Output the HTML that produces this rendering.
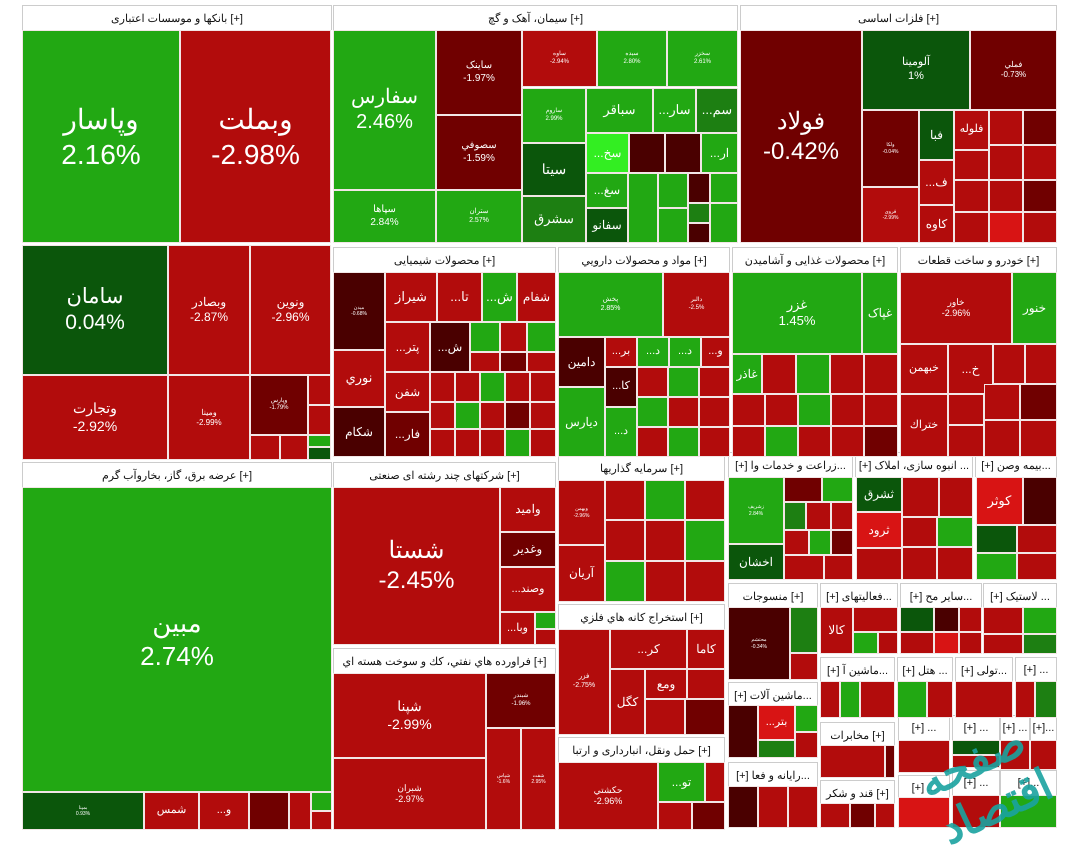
<!DOCTYPE html>
<html><head><meta charset="utf-8">
<style>
html,body{margin:0;padding:0;background:#fff;}
#map{position:relative;width:1080px;height:851px;overflow:hidden;background:#fff;font-family:"Liberation Sans","Noto Sans CJK SC",sans-serif;}
.t{position:absolute;box-sizing:border-box;border:1px solid #f2e6e6;display:flex;flex-direction:column;align-items:center;justify-content:center;color:#fff;overflow:hidden;text-align:center;line-height:1.25;white-space:nowrap;}
.h{position:absolute;box-sizing:border-box;background:#fff;border:1px solid #ccc;border-bottom:none;color:#111;font-size:11px;display:flex;align-items:center;justify-content:center;white-space:nowrap;overflow:hidden;}
.wm{position:absolute;left:925px;top:725px;color:#1aa3a0;font-size:44px;font-weight:bold;transform:rotate(-25deg);opacity:.9;font-family:"Liberation Sans","Noto Sans CJK SC",sans-serif;}
</style></head>
<body>
<div id="map"></div>
<script>
const C={g:'#22a813',G:'#0b560b',m:'#1d7f12',l:'#33ee22',r:'#b20c0c',R:'#700000',b:'#d81414',k:'#4a0000'};
const sectorHeaders=[
[22,5,310,'بانکها و موسسات اعتباری [+]'],[333,5,405,'سیمان، آهک و گچ [+]'],[740,5,317,'فلزات اساسی [+]'],
[333,247,223,'محصولات شیمیایی [+]'],[558,247,172,'مواد و محصولات دارويي [+]'],[732,247,166,'محصولات غذایی و آشامیدن [+]'],[900,247,157,'خودرو و ساخت قطعات [+]'],
[22,462,310,'عرضه برق، گاز، بخاروآب گرم [+]'],[333,462,223,'شرکتهای چند رشته ای صنعتی [+]'],[333,648,223,'فراورده هاي نفتي، كك و سوخت هسته اي [+]'],
[558,455,167,'سرمایه گذاریها [+]'],[558,604,167,'استخراج كانه هاي فلزي [+]'],[558,737,167,'حمل ونقل، انبارداری و ارتبا [+]'],
[728,452,125,'[+] زراعت و خدمات وا...'],[855,452,118,'[+] انبوه سازی، املاک ...'],[975,452,82,'[+] بیمه وصن...'],
[728,583,90,'منسوجات [+]'],[820,583,78,'[+] فعالیتهای...'],[900,583,82,'[+] سایر مح...'],[983,583,74,'[+] لاستیک ...'],
[820,657,75,'[+] ماشین آ...'],[897,657,56,'[+] هتل ...'],[955,657,58,'[+] تولی...'],[1015,657,42,'[+] ...'],
[728,682,90,'[+] ماشین آلات...'],[820,722,75,'مخابرات [+]'],[728,762,90,'[+] رایانه و فعا...'],[820,780,75,'قند و شکر [+]'],
[898,715,52,'[+] ...'],[952,715,48,'[+] ...'],[1000,715,30,'[+] ...'],[1030,715,27,'[+]...'],[898,775,52,'[+] ...'],[952,770,48,'[+] ...'],[1000,770,57,'[+]...']
];
// tiles: x,y,w,h,color,symbol,change,fontsize
const tiles=[
[22,30,158,213,'g','وپاسار','2.16%',28],[180,30,151,213,'r','وبملت','-2.98%',28],
[22,245,146,130,'G','سامان','0.04%',21],[168,245,82,130,'r','وبصادر','-2.87%',12],[250,245,81,130,'r','ونوین','-2.96%',12],
[22,375,146,85,'r','وتجارت','-2.92%',14],[168,375,82,85,'r','ومینا','-2.99%',8],[250,375,58,60,'R','وپارس','-1.79%',6],
[308,375,23,30,'r','',''],[308,405,23,30,'r','',''],[250,435,30,25,'r','',''],[280,435,28,25,'r','',''],[308,435,23,12,'g','',''],[308,447,23,13,'G','',''],
[333,30,103,160,'g','سفارس','2.46%',20],[333,190,103,53,'g','سپاها','2.84%',10],[436,30,86,85,'R','ساینک','-1.97%',10],[436,115,86,75,'R','سصوفي','-1.59%',10],[436,190,86,53,'g','ستران','2.57%',7],
[522,30,75,57,'r','ساوه','-2.94%',6],[597,30,70,57,'g','سیده','2.80%',6],[667,30,71,57,'g','سخزر','2.61%',6],
[522,88,64,55,'g','ساروم','2.99%',6],[586,88,67,45,'g','سباقر','',13],[653,88,43,45,'g','...سار','',13],[696,88,42,45,'m','...سم','',13],
[522,143,64,53,'G','سیتا','',14],[522,196,64,47,'m','سشرق','',13],[586,133,43,40,'l','...سخ','',12],[629,133,36,40,'k','',''],[665,133,36,40,'k','',''],[701,133,37,40,'g','...ار','',12],
[586,173,42,35,'g','...سغ','',12],[586,208,42,35,'G','سفانو','',12],[628,173,30,70,'g','',''],[658,173,30,35,'g','',''],[688,173,22,30,'k','',''],[710,173,28,30,'g','',''],[658,208,30,35,'g','',''],[688,203,22,20,'m','',''],[688,223,22,20,'k','',''],[710,203,28,40,'g','',''],
[740,30,122,213,'R','فولاد','-0.42%',24],[862,30,108,80,'G','آلومینا','1%',11],[970,30,87,80,'R','فملي','-0.73%',8],
[862,110,57,77,'R','ولکا','-0.04%',5],[919,110,35,50,'G','فبا','',12],[954,110,35,40,'r','فلوله','',11],[989,110,34,35,'r','',''],[1023,110,34,35,'R','',''],
[954,150,35,30,'r','',''],[989,145,34,35,'r','',''],[1023,145,34,35,'r','',''],[862,187,57,56,'r','فروی','-2.99%',5],[919,160,35,45,'r','...ف','',12],[919,205,35,38,'r','کاوه','',12],
[954,180,35,32,'r','',''],[989,180,34,32,'r','',''],[1023,180,34,32,'R','',''],[954,212,35,31,'r','',''],[989,212,34,31,'b','',''],[1023,212,34,31,'r','',''],
[333,272,52,78,'k','میدن','-0.68%',5],[385,272,52,50,'r','شیراز','',13],[437,272,45,50,'r','...تا','',13],[482,272,35,50,'g','...ش','',13],[517,272,39,50,'r','شفام','',12],
[333,350,52,57,'r','نوري','',13],[333,407,52,50,'k','شکام','',12],[385,322,45,50,'r','...پتر','',12],[385,372,45,40,'r','شفن','',12],[385,412,45,45,'R','...فار','',12],
[430,322,40,50,'k','...ش','',12],[470,322,30,30,'g','',''],[500,322,27,30,'r','',''],[527,322,29,30,'g','',''],
[470,352,30,20,'r','',''],[500,352,27,20,'R','',''],[527,352,29,20,'r','',''],
[430,372,25,30,'r','',''],[455,372,25,30,'r','',''],[480,372,25,30,'g','',''],[505,372,25,30,'r','',''],[530,372,26,30,'r','',''],
[430,402,25,27,'r','',''],[455,402,25,27,'g','',''],[480,402,25,27,'r','',''],[505,402,25,27,'R','',''],[530,402,26,27,'r','',''],
[430,429,25,28,'r','',''],[455,429,25,28,'r','',''],[480,429,25,28,'r','',''],[505,429,25,28,'g','',''],[530,429,26,28,'r','',''],
[558,272,105,65,'g','پخش','2.85%',7],[663,272,67,65,'r','دالبر','-2.5%',6],[558,337,47,50,'k','دامين','',12],[558,387,47,70,'g','ديارس','',12],
[605,337,32,30,'r','...بر','',11],[637,337,32,30,'g','...د','',11],[669,337,32,30,'g','...د','',11],[701,337,29,30,'r','...و','',11],
[605,367,32,40,'k','...کا','',11],[605,407,32,50,'g','...د','',11],
[637,367,31,30,'r','',''],[668,367,31,30,'g','',''],[699,367,31,30,'r','',''],[637,397,31,30,'g','',''],[668,397,31,30,'r','',''],[699,397,31,30,'r','',''],
[637,427,31,30,'r','',''],[668,427,31,30,'g','',''],[699,427,31,30,'r','',''],
[732,272,130,82,'g','غزر','1.45%',13],[862,272,36,82,'g','غپاک','',12],[732,354,30,40,'g','غاذر','',12],
[762,354,34,40,'r','',''],[796,354,34,40,'g','',''],[830,354,34,40,'r','',''],[864,354,34,40,'r','',''],
[732,394,33,32,'r','',''],[765,394,33,32,'r','',''],[798,394,33,32,'g','',''],[831,394,33,32,'r','',''],[864,394,34,32,'r','',''],
[732,426,33,31,'r','',''],[765,426,33,31,'g','',''],[798,426,33,31,'r','',''],[831,426,33,31,'r','',''],[864,426,34,31,'R','',''],
[900,272,112,72,'r','خاور','-2.96%',9],[1012,272,45,72,'g','خنور','',12],[900,344,48,50,'r','خبهمن','',11],[948,344,45,50,'r','...خ','',12],[900,394,48,63,'r','ختراك','',11],
[993,344,32,40,'r','',''],[1025,344,32,40,'r','',''],[948,394,36,31,'r','',''],[984,384,36,36,'r','',''],[1020,384,37,36,'R','',''],
[948,425,36,32,'r','',''],[984,420,36,37,'r','',''],[1020,420,37,37,'r','',''],
[22,487,310,305,'g','مبین','2.74%',26],[22,792,122,38,'G','بمپنا','0.93%',5],[144,792,55,38,'r','شمس','',11],[199,792,50,38,'r','...و','',11],[249,792,40,38,'R','',''],[289,792,22,38,'r','',''],[311,792,21,19,'g','',''],[311,811,21,19,'r','',''],
[333,487,167,158,'r','شستا','-2.45%',24],[500,487,56,45,'r','وامید','',12],[500,532,56,35,'R','وغدیر','',12],[500,567,56,45,'r','...وصند','',11],[500,612,35,33,'r','...وبا','',11],[535,612,21,17,'g','',''],[535,629,21,16,'r','',''],
[333,673,153,85,'r','شپنا','-2.99%',14],[333,758,153,72,'r','شبران','-2.97%',9],[486,673,70,55,'R','شبندر','-1.96%',6],[486,728,35,102,'r','شپاس','-1.6%',5],[521,728,35,102,'r','شفت','2.95%',5],
[558,480,47,65,'r','وبهمن','-2.96%',5],[558,545,47,57,'r','آریان','',12],
[605,480,40,40,'r','',''],[645,480,40,40,'g','',''],[685,480,40,40,'r','',''],[605,520,40,41,'r','',''],[645,520,40,41,'r','',''],[685,520,40,41,'g','',''],[605,561,40,41,'g','',''],[645,561,40,41,'r','',''],[685,561,40,41,'r','',''],
[558,629,52,106,'r','فزر','-2.75%',7],[610,629,77,40,'r','...کر','',12],[687,629,38,40,'r','کاما','',12],[610,669,35,66,'r','کگل','',12],[645,669,42,30,'r','ومع','',12],[687,669,38,30,'r','',''],[645,699,40,36,'r','',''],[685,699,40,36,'R','',''],
[558,762,100,68,'r','حکشتي','-2.96%',9],[658,762,47,40,'g','...تو','',12],[705,762,20,40,'r','',''],[658,802,34,28,'r','',''],[692,802,33,28,'R','',''],
[728,477,56,67,'g','زشریف','2.84%',5],[728,544,56,36,'G','اخشان','',12],[784,477,38,25,'R','',''],[822,477,31,25,'g','',''],[784,502,22,28,'m','',''],[806,502,25,28,'r','',''],[831,502,22,28,'r','',''],[784,530,25,25,'r','',''],[809,530,22,25,'g','',''],[831,530,22,25,'R','',''],[784,555,40,25,'r','',''],[824,555,29,25,'r','',''],
[856,477,46,35,'G','ثشرق','',12],[856,512,46,36,'b','ثرود','',12],[856,548,46,32,'r','',''],[902,477,37,40,'r','',''],[939,477,34,40,'r','',''],[902,517,35,30,'r','',''],[937,517,36,30,'g','',''],[902,547,35,33,'r','',''],[937,547,36,33,'r','',''],
[976,477,47,48,'b','کوثر','',13],[1023,477,34,48,'k','',''],[976,525,41,28,'G','',''],[1017,525,40,28,'r','',''],[976,553,41,27,'g','',''],[1017,553,40,27,'r','',''],
[728,607,62,73,'k','محتشم','-0.34%',5],[790,607,28,46,'m','',''],[790,653,28,27,'r','',''],
[820,607,33,47,'r','کالا','',12],[853,607,45,25,'r','',''],[853,632,25,22,'g','',''],[878,632,20,22,'r','',''],
[900,607,34,25,'G','',''],[934,607,25,25,'k','',''],[959,607,23,25,'r','',''],[900,632,34,22,'r','',''],[934,632,25,22,'b','',''],[959,632,23,22,'r','',''],
[983,607,40,27,'r','',''],[1023,607,34,27,'g','',''],[983,634,40,20,'r','',''],[1023,634,34,20,'m','',''],
[820,681,20,37,'r','',''],[840,681,20,37,'g','',''],[860,681,35,37,'r','',''],[897,681,30,37,'g','',''],[927,681,26,37,'r','',''],[955,681,58,37,'r','',''],[1015,681,20,37,'r','',''],[1035,681,22,37,'m','',''],
[728,705,30,53,'k','',''],[758,705,37,35,'b','...بتر','',11],[758,740,37,18,'m','',''],[795,705,23,27,'g','',''],[795,732,23,26,'r','',''],
[820,745,65,33,'r','',''],[885,745,10,33,'R','',''],
[728,786,30,42,'k','',''],[758,786,30,42,'r','',''],[788,786,30,42,'r','',''],
[820,803,30,25,'r','',''],[850,803,25,25,'R','',''],[875,803,20,25,'r','',''],
[898,740,52,33,'r','',''],[952,740,48,15,'G','',''],[952,755,48,13,'r','',''],[1000,740,30,30,'r','',''],[1030,740,27,30,'r','',''],
[898,797,52,31,'b','',''],[952,795,48,33,'r','',''],[1000,795,57,33,'g','','']
];
const map=document.getElementById('map');
sectorHeaders.forEach(s=>{
  const d=document.createElement('div');
  d.className='h';
  d.style.left=s[0]+'px';d.style.top=s[1]+'px';d.style.width=s[2]+'px';d.style.height='25px';
  d.textContent=s[3];
  
  
  map.appendChild(d);
});
tiles.forEach(t=>{
  const d=document.createElement('div');
  d.className='t';
  d.style.left=t[0]+'px';d.style.top=t[1]+'px';d.style.width=t[2]+'px';d.style.height=t[3]+'px';
  d.style.background=C[t[4]];
  if(t[5]){
    const fs=t[7]||11;
    d.style.fontSize=fs+'px';
    const a=document.createElement('div');a.textContent=t[5];
    
    
    d.appendChild(a);
    if(t[6]){const b=document.createElement('div');b.textContent=t[6];
      
      
      d.appendChild(b);}
  }
  
  
  map.appendChild(d);
});
const w=document.createElement('div');
w.className='wm';w.textContent='صفحه اقتصاد';


map.appendChild(w);
</script>
</body></html>
